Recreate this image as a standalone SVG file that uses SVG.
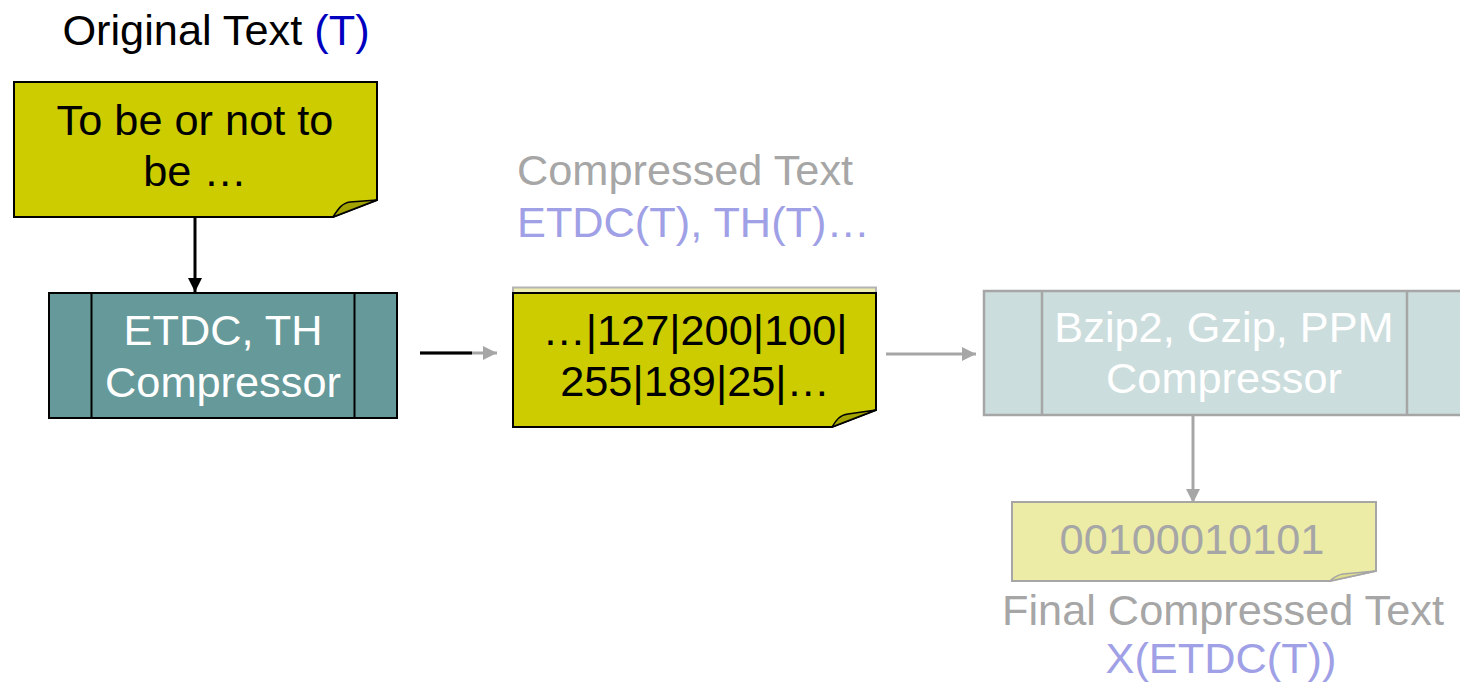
<svg xmlns="http://www.w3.org/2000/svg" width="1460" height="685" viewBox="0 0 1460 685">
  <style>
    text { font-family: "Liberation Sans", Arial, sans-serif; font-size: 43.3px; text-anchor: middle; }
    .dark { fill: #000000; }
    .white { fill: #ffffff; }
    .grey { fill: #a6a6a6; }
    .blue { fill: #0000c0; }
    .lilac { fill: #a0a0e6; }
    .note { fill: #cccc00; stroke: #000000; stroke-width: 2; }
    .fold { fill: #a3a300; stroke: #000000; stroke-width: 1.5; stroke-linejoin: round; }
    .note-faded { fill: #ececa6; stroke: #a6a6a6; stroke-width: 2; }
    .fold-faded { fill: #dede8c; stroke: #a6a6a6; stroke-width: 1.5; stroke-linejoin: round; }
    .proc { fill: #669999; stroke: #000000; stroke-width: 2; }
    .proc-faded { fill: #ccdddd; stroke: #a6a6a6; stroke-width: 2.5; }
    .link { fill: none; stroke-width: 3; }
  </style>
  <defs>
    <marker id="head-black" markerUnits="userSpaceOnUse" markerWidth="16" markerHeight="16" refX="14" refY="8" orient="auto">
      <path d="M0,1 L14,8 L0,15 Z" fill="#000000"/>
    </marker>
    <marker id="head-grey" markerUnits="userSpaceOnUse" markerWidth="16" markerHeight="16" refX="14" refY="8" orient="auto">
      <path d="M0,1 L14,8 L0,15 Z" fill="#a6a6a6"/>
    </marker>
  </defs>

  <!-- free labels -->
  <g id="labels">
    <text x="216" y="45"><tspan class="dark">Original Text </tspan><tspan class="blue">(T)</tspan></text>
    <text class="grey" x="517" y="185" style="text-anchor:start">Compressed Text</text>
    <text class="lilac" x="517" y="237" style="text-anchor:start">ETDC(T), TH(T)…</text>
    <text class="grey" x="1223" y="625">Final Compressed Text</text>
    <text class="lilac" x="1221" y="673">X(ETDC(T))</text>
  </g>

  <!-- connectors -->
  <g id="connectors">
    <line class="link" x1="195" y1="217" x2="195" y2="292" stroke="#000000" marker-end="url(#head-black)"/>
    <line class="link" x1="420" y1="353" x2="497" y2="353" stroke="#a6a6a6" marker-end="url(#head-grey)"/>
    <line class="link" x1="420" y1="353" x2="472" y2="353" stroke="#000000"/>
    <line class="link" x1="886" y1="354" x2="976" y2="354" stroke="#a6a6a6" marker-end="url(#head-grey)"/>
    <line class="link" x1="1193" y1="415" x2="1193" y2="503" stroke="#a6a6a6" marker-end="url(#head-grey)"/>
  </g>

  <!-- original text note -->
  <g id="original-note">
    <path class="note" d="M14,82 H377 V200 L333,217 H14 Z"/>
    <path class="fold" d="M333,217 C338,209 342,203 350,202 L377,200 Z"/>
    <text class="dark" x="195" y="135">To be or not to</text>
    <text class="dark" x="195" y="186">be …</text>
  </g>

  <!-- first-stage compressor -->
  <g id="etdc-compressor">
    <rect class="proc" x="49" y="293" width="348" height="125"/>
    <line x1="91.5" y1="293" x2="91.5" y2="418" stroke="#000000" stroke-width="2"/>
    <line x1="354.5" y1="293" x2="354.5" y2="418" stroke="#000000" stroke-width="2"/>
    <text class="white" x="223" y="345">ETDC, TH</text>
    <text class="white" x="223" y="397">Compressor</text>
  </g>

  <!-- intermediate byte stream note -->
  <g id="compressed-note">
    <rect x="513" y="287.5" width="363" height="20" fill="#eeeeb0" stroke="#b4b4b4" stroke-width="2"/>
    <path class="note" d="M513,293 H876 V410 L832,427 H513 Z"/>
    <path class="fold" d="M832,427 C836,420 840,415 848,414 L876,410 Z"/>
    <text class="dark" x="695" y="345">…|127|200|100|</text>
    <text class="dark" x="695" y="396">255|189|25|…</text>
  </g>

  <!-- second-stage compressor -->
  <g id="general-compressor">
    <rect class="proc-faded" x="984" y="291" width="481" height="124"/>
    <line x1="1042" y1="291" x2="1042" y2="415" stroke="#a6a6a6" stroke-width="2.5"/>
    <line x1="1407" y1="291" x2="1407" y2="415" stroke="#a6a6a6" stroke-width="2.5"/>
    <text class="white" x="1224" y="342">Bzip2, Gzip, PPM</text>
    <text class="white" x="1224" y="393">Compressor</text>
  </g>

  <!-- final output note -->
  <g id="final-note">
    <path class="note-faded" d="M1012,502 H1376 V571 L1330,581 H1012 Z"/>
    <path class="fold-faded" d="M1330,581 C1334,577 1337,575 1343,574 L1376,571 Z"/>
    <text class="grey" x="1192" y="554">00100010101</text>
  </g>
</svg>
